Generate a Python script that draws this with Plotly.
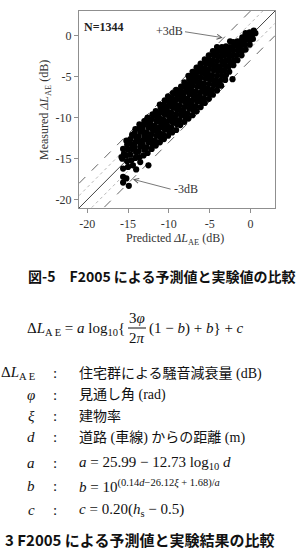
import plotly.graph_objects as go

# ---------------- data ----------------
tick_vals = [-20, -15, -10, -5, 0]
tick_text = ["-20", "-15", "-10", "-5", "0"]
axis_range = [-21, 3]
ref_offsets_dash = [3, -3]
ref_offsets_dot = [1.5, -1.5]
n_points = 1344

pts_tail = [(-15.6, -17.2), (-15.2, -17.4), (-15.6, -17.9), (-14.9, -18.3), (-15.6, -16.2),
            (-15.0, -16.0), (-14.4, -15.8), (-13.5, -15.4), (-12.5, -15.8), (-14.0, -16.3)]

pts_lower = [
    (-15.7, -15.0), (-15.5, -14.4), (-15.6, -13.8), (-15.8, -14.8),
    (-15.1, -15.3), (-15.2, -14.6), (-15.0, -13.9), (-15.1, -13.3), (-15.2, -12.8),
    (-14.6, -15.2), (-14.7, -14.5), (-14.5, -13.8), (-14.6, -13.2), (-14.7, -12.6), (-14.5, -12.1),
    (-14.1, -14.9), (-14.0, -14.2), (-14.2, -13.6), (-14.1, -13.0), (-14.0, -12.4), (-14.2, -11.9), (-14.1, -11.4),
    (-13.6, -14.8), (-13.7, -14.1), (-13.5, -13.5), (-13.6, -12.9), (-13.7, -12.3), (-13.5, -11.7), (-13.6, -11.2), (-13.6, -10.8),
    (-13.1, -14.6), (-13.0, -13.9), (-13.2, -13.3), (-13.1, -12.7), (-13.0, -12.1), (-13.2, -11.5), (-13.1, -10.9), (-13.0, -10.4),
    (-12.6, -14.3), (-12.7, -13.6), (-12.5, -13.0), (-12.6, -12.4), (-12.7, -11.8), (-12.5, -11.2), (-12.6, -10.6), (-12.6, -10.0),
    (-12.1, -13.8), (-12.0, -13.2), (-12.2, -12.6), (-12.1, -12.0), (-12.0, -11.4), (-12.2, -10.8), (-12.1, -10.2), (-12.0, -9.6),
    (-11.6, -13.4), (-11.7, -12.8), (-11.5, -12.2), (-11.6, -11.6), (-11.7, -11.0), (-11.5, -10.4), (-11.6, -9.8), (-11.6, -9.2),
    (-11.1, -13.0), (-11.0, -12.4), (-11.2, -11.8), (-11.1, -11.2), (-11.0, -10.6), (-11.2, -10.0), (-11.1, -9.4), (-11.0, -8.8), (-11.1, -8.4),
    (-10.6, -12.6), (-10.7, -12.0), (-10.5, -11.4), (-10.6, -10.8), (-10.7, -10.2), (-10.5, -9.6), (-10.6, -9.0), (-10.6, -8.4), (-10.5, -7.9),
    (-10.1, -12.2), (-10.0, -11.6), (-10.2, -11.0), (-10.1, -10.4), (-10.0, -9.8), (-10.2, -9.2), (-10.1, -8.6), (-10.0, -8.0), (-10.1, -7.4),
    (-9.6, -11.8), (-9.7, -11.2), (-9.5, -10.6), (-9.6, -10.0), (-9.7, -9.4), (-9.5, -8.8), (-9.6, -8.2), (-9.6, -7.6), (-9.5, -7.0),
    (-9.1, -11.5), (-9.0, -10.8), (-9.2, -10.2), (-9.1, -9.6), (-9.0, -9.0), (-9.2, -8.4), (-9.1, -7.8), (-9.0, -7.2), (-9.1, -6.6),
]

pts_block = [
    (-8.6, -10.9), (-8.7, -10.3), (-8.5, -9.7), (-8.6, -9.1), (-8.7, -8.5), (-8.5, -7.9), (-8.6, -7.3), (-8.6, -6.7), (-8.5, -6.2),
    (-8.1, -10.5), (-8.0, -9.9), (-8.2, -9.3), (-8.1, -8.7), (-8.0, -8.1), (-8.2, -7.5), (-8.1, -6.9), (-8.0, -6.3), (-8.1, -5.7),
    (-7.6, -10.1), (-7.7, -9.5), (-7.5, -8.9), (-7.6, -8.3), (-7.7, -7.7), (-7.5, -7.1), (-7.6, -6.5), (-7.6, -5.9), (-7.5, -5.3), (-7.6, -4.9),
    (-7.1, -9.7), (-7.0, -9.1), (-7.2, -8.5), (-7.1, -7.9), (-7.0, -7.3), (-7.2, -6.7), (-7.1, -6.1), (-7.0, -5.5), (-7.1, -4.9), (-7.1, -4.4),
    (-6.6, -9.2), (-6.7, -8.6), (-6.5, -8.0), (-6.6, -7.4), (-6.7, -6.8), (-6.5, -6.2), (-6.6, -5.6), (-6.6, -5.0), (-6.5, -4.4), (-6.6, -3.9),
    (-6.1, -8.7), (-6.0, -8.1), (-6.2, -7.5), (-6.1, -6.9), (-6.0, -6.3), (-6.2, -5.7), (-6.1, -5.1), (-6.0, -4.5), (-6.1, -3.9), (-6.1, -3.4),
    (-5.6, -8.2), (-5.7, -7.6), (-5.5, -7.0), (-5.6, -6.4), (-5.7, -5.8), (-5.5, -5.2), (-5.6, -4.6), (-5.6, -4.0), (-5.5, -3.4), (-5.6, -2.9),
    (-5.1, -7.7), (-5.0, -7.1), (-5.2, -6.5), (-5.1, -5.9), (-5.0, -5.3), (-5.2, -4.7), (-5.1, -4.1), (-5.0, -3.5), (-5.1, -2.9), (-5.1, -2.4),
    (-4.6, -7.2), (-4.7, -6.6), (-4.5, -6.0), (-4.6, -5.4), (-4.7, -4.8), (-4.5, -4.2), (-4.6, -3.6), (-4.6, -3.0), (-4.5, -2.4), (-4.6, -1.9),
    (-4.1, -6.7), (-4.0, -6.1), (-4.2, -5.5), (-4.1, -4.9), (-4.0, -4.3), (-4.2, -3.7), (-4.1, -3.1), (-4.0, -2.5), (-4.1, -1.9), (-4.1, -1.4),
    (-3.6, -6.1), (-3.7, -5.5), (-3.5, -4.9), (-3.6, -4.3), (-3.7, -3.7), (-3.5, -3.1), (-3.6, -2.5), (-3.6, -1.9), (-3.5, -1.4),
    (-3.1, -5.4), (-3.0, -4.8), (-3.2, -4.2), (-3.1, -3.6), (-3.0, -3.0), (-3.2, -2.4), (-3.1, -1.8), (-3.0, -1.3),
]

pts_top = [
    (-2.6, -4.4), (-2.7, -3.8), (-2.5, -3.2), (-2.6, -2.6), (-2.7, -2.0), (-2.5, -1.4), (-2.5, -0.7),
    (-2.1, -3.6), (-2.0, -3.0), (-2.2, -2.4), (-2.1, -1.8), (-2.0, -1.2), (-2.1, -0.8), (-2.2, -5.3),
    (-1.6, -3.0), (-1.7, -2.4), (-1.5, -1.8), (-1.6, -1.2), (-1.6, -0.7),
    (-1.1, -2.4), (-1.0, -1.8), (-1.2, -1.2), (-1.1, -0.6), (-1.0, -0.2),
    (-0.6, -1.7), (-0.7, -1.1), (-0.5, -0.5), (-0.6, 0.0), (-0.6, 0.3),
    (-0.1, -1.1), (0.0, -0.5), (-0.2, 0.0), (-0.1, 0.4),
    (0.3, -0.4), (0.3, 0.2), (0.4, 0.6), (0.6, 0.3),
]

all_pts = pts_tail + pts_lower + pts_block + pts_top
pred = [p[0] for p in all_pts]
meas = [p[1] for p in all_pts]

# ---------------- figure ----------------
W, H = 307, 555
ML, MR, MT, MB = 79, 32, 11, 347
PW, PH = W - ML - MR, H - MT - MB

def P(px, py, xa="center", ya="middle"):
    return dict(x=(px - ML) / PW, y=(MT + PH - py) / PH, xref="paper", yref="paper",
                xanchor=xa, yanchor=ya)

fig = go.Figure()
SERIF = "Liberation Serif, Times New Roman, serif"
JP = "Liberation Serif, Noto Sans CJK JP"
JPB = "Noto Sans CJK JP"

# reference lines (in data coordinates)
for off in ref_offsets_dot:
    fig.add_trace(go.Scatter(x=axis_range, y=[axis_range[0] + off, axis_range[1] + off], mode="lines",
                             line=dict(color="#b8b8b8", width=1, dash="dot"), hoverinfo="skip", showlegend=False))
for off in ref_offsets_dash:
    fig.add_trace(go.Scatter(x=axis_range, y=[axis_range[0] + off, axis_range[1] + off], mode="lines",
                             line=dict(color="#666666", width=1, dash="dash"), hoverinfo="skip", showlegend=False))
fig.add_trace(go.Scatter(x=axis_range, y=axis_range, mode="lines",
                         line=dict(color="#444444", width=1), hoverinfo="skip", showlegend=False))

fig.add_trace(go.Scatter(x=pred, y=meas, mode="markers",
                         marker=dict(color="black", size=6.2, line=dict(width=0)), showlegend=False))

ax_common = dict(range=axis_range, tickvals=tick_vals, ticktext=tick_text, showgrid=False, zeroline=False,
                 showline=True, mirror=True, linecolor="#8f8f8f", linewidth=1.3,
                 ticks="outside", ticklen=4, tickcolor="#8f8f8f", tickwidth=1,
                 tickfont=dict(family=SERIF, size=12, color="#333333"))
fig.update_xaxes(**ax_common)
fig.update_yaxes(**ax_common)

ann = []
# in-plot labels
ann.append(dict(x=-17.9, y=1.0, xref="x", yref="y", text="<b>N=%d</b>" % n_points, showarrow=False,
                font=dict(family=SERIF, size=12, color="#222")))
ann.append(dict(x=-9.9, y=0.6, xref="x", yref="y", text="+3dB", showarrow=False,
                font=dict(family=SERIF, size=12, color="#333")))
ann.append(dict(x=-3.4, y=-0.25, xref="x", yref="y", ax=-8.2, ay=0.5, axref="x", ayref="y", text="",
                showarrow=True, arrowhead=5, arrowsize=1.2, arrowwidth=0.8, arrowcolor="#555"))
ann.append(dict(x=-7.9, y=-18.7, xref="x", yref="y", text="-3dB", showarrow=False,
                font=dict(family=SERIF, size=12, color="#333")))
ann.append(dict(x=-14.4, y=-17.5, xref="x", yref="y", ax=-9.6, ay=-18.75, axref="x", ayref="y", text="",
                showarrow=True, arrowhead=5, arrowsize=1.2, arrowwidth=0.8, arrowcolor="#555"))

# axis titles
ann.append(dict(**P(45, 110), text="Measured <i>ΔL</i><sub>AE</sub> (dB)", textangle=-90, showarrow=False,
                font=dict(family=SERIF, size=12, color="#333")))
ann.append(dict(**P(175, 239), text="Predicted <i>ΔL</i><sub>AE</sub> (dB)", showarrow=False,
                font=dict(family=SERIF, size=12, color="#333")))

# caption
ann.append(dict(**P(161, 276), text="<b>図-5　F2005 による予測値と実験値の比較</b>", showarrow=False,
                font=dict(family=JPB, size=14, color="#111")))

# formula
MF = dict(family=SERIF, size=15, color="#111")
ann.append(dict(**P(127, 329, xa="right"), text="Δ<i>L</i><sub>A E</sub> = <i>a</i> log<sub>10</sub>{",
                showarrow=False, font=MF))
ann.append(dict(**P(137, 318), text="3<i>φ</i>", showarrow=False, font=MF))
ann.append(dict(**P(137, 338), text="2<i>π</i>", showarrow=False, font=MF))
ann.append(dict(**P(147, 328, xa="left"), text="(1 − <i>b</i>) + <i>b</i>} + <i>c</i>",
                showarrow=False, font=MF))

# definitions
rows = [
    (373, "Δ<i>L</i><sub>A E</sub>", "住宅群による騒音減衰量 (dB)"),
    (395, "<i>φ</i>", "見通し角 (rad)"),
    (416, "<i>ξ</i>", "建物率"),
    (437, "<i>d</i>", "道路 (車線) からの距離 (m)"),
    (463, "<i>a</i>", "<i>a</i> = 25.99 − 12.73 log<sub>10</sub> <i>d</i>"),
    (486, "<i>b</i>", "<i>b</i> = 10<sup>(0.14<i>d</i>−26.12<i>ξ</i> + 1.68)/<i>a</i></sup>"),
    (510, "<i>c</i>", "<i>c</i> = 0.20(<i>h</i><sub>s</sub> − 0.5)"),
]
for py, sym, desc in rows:
    ann.append(dict(**P(37, py, xa="right"), text=sym, showarrow=False, font=MF))
    ann.append(dict(**P(55, py), text=":", showarrow=False, font=MF))
    ann.append(dict(**P(77, py, xa="left"), text=desc, showarrow=False,
                    font=dict(family=JP, size=14 if "<i>" not in desc else 15, color="#111")))

ann.append(dict(**P(3, 539, xa="left"), text="<b>3 F2005 による予測値と実験結果の比較</b>", showarrow=False,
                font=dict(family=JPB, size=15, color="#111")))

fr = P(128, 328)
to = P(146, 328)
fig.update_layout(
    width=W, height=H, margin=dict(l=ML, r=MR, t=MT, b=MB),
    paper_bgcolor="white", plot_bgcolor="white",
    annotations=ann,
    shapes=[dict(type="line", xref="paper", yref="paper", x0=fr["x"], x1=to["x"], y0=fr["y"], y1=fr["y"],
                 line=dict(color="#111", width=1))],
)
fig.write_html("out.html")
